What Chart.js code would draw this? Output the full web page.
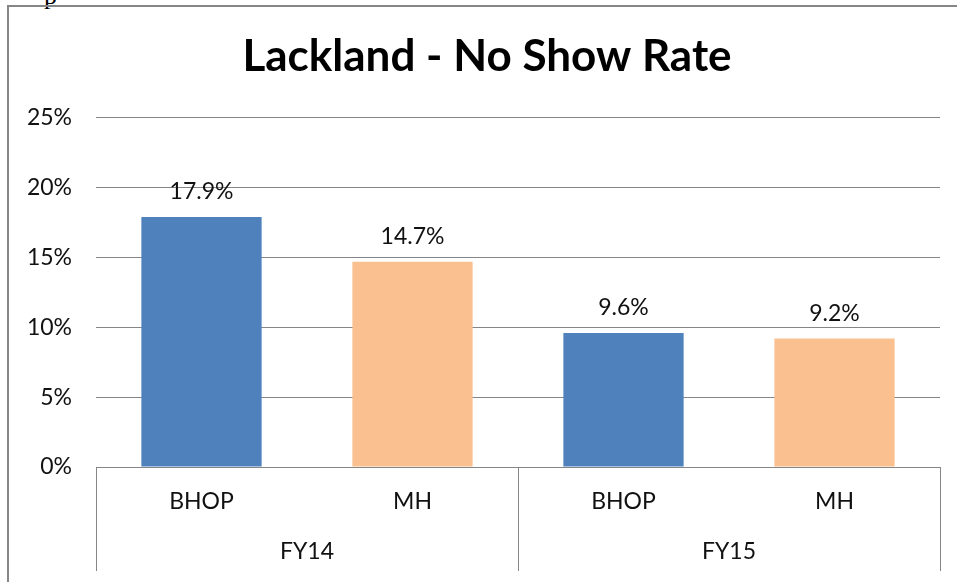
<!DOCTYPE html>
<html>
<head>
<meta charset="utf-8">
<script src="https://cdn.jsdelivr.net/npm/chart.js@4/dist/chart.umd.min.js"></script>
<style>
  html, body { margin: 0; padding: 0; background: #fff; }
  body { width: 957px; height: 582px; position: relative; overflow: hidden; }
  #wrap { position: absolute; left: 0; top: 0; width: 957px; height: 582px; }
  .bline { position: absolute; background: #868686; }
  #frag { position: absolute; left: 44px; top: -19px; font-family: "Liberation Serif", serif; font-size: 26px; color: #000; }
</style>
</head>
<body>
<div id="frag">p</div>
<div class="bline" style="left:7px; top:5px; width:950px; height:2px;"></div>
<div class="bline" style="left:7px; top:5px; width:2px; height:577px;"></div>
<div id="wrap"><canvas id="c" width="957" height="582"></canvas></div>
<script>
const chartTitle = 'Lackland - No Show Rate';
const categories = ['BHOP', 'MH', 'BHOP', 'MH'];
const groups = ['FY14', 'FY15'];
const noShowRates = [17.9, 14.7, 9.6, 9.2];
const barColors = ['#4F81BD', '#FAC090', '#4F81BD', '#FAC090'];
const yTicks = [0, 5, 10, 15, 20, 25];

const FONT = 'Lato';
const TXT = '#111111';
const LINE = '#868686';

// widest y label width, so mirrored labels can be right-aligned left of the plot
const mctx = document.createElement('canvas').getContext('2d');
mctx.font = '23px ' + FONT;
const widestY = Math.max(...yTicks.map(v => mctx.measureText(v + '%').width));

const dataLabels = {
  id: 'dataLabels',
  afterDatasetsDraw(chart) {
    const ctx = chart.ctx;
    ctx.save();
    ctx.font = '23px ' + FONT;
    ctx.fillStyle = TXT;
    ctx.textAlign = 'center';
    ctx.textBaseline = 'middle';
    chart.getDatasetMeta(0).data.forEach((bar, i) => {
      ctx.fillText(noShowRates[i].toFixed(1) + '%', bar.x, bar.y - 25);
    });
    ctx.restore();
  }
};

new Chart(document.getElementById('c'), {
  type: 'bar',
  data: {
    labels: categories,
    datasets: [{
      data: noShowRates,
      backgroundColor: barColors,
      borderWidth: 0,
      barPercentage: 0.57,
      categoryPercentage: 1
    }]
  },
  options: {
    responsive: false,
    animation: false,
    layout: { padding: { left: 34, right: 17, top: 0, bottom: 11 } },
    plugins: {
      legend: { display: false },
      tooltip: { enabled: false },
      title: {
        display: true,
        text: chartTitle,
        color: '#000',
        font: { family: FONT, size: 44, weight: 'bold', lineHeight: 1.2 },
        padding: { top: 30, bottom: 35 }
      }
    },
    scales: {
      y: {
        min: 0, max: 25,
        afterFit: (s) => { s.width = 62; },
        afterBuildTicks: (s) => { s.ticks = yTicks.map(v => ({ value: v })); },
        ticks: {
          callback: (v) => v + '%',
          color: TXT,
          font: { family: FONT, size: 23 },
          mirror: true,
          crossAlign: 'far',
          padding: -24 - widestY
        },
        grid: { color: LINE, lineWidth: 1, drawTicks: false },
        border: { display: false }
      },
      x: {
        weight: 0,
        afterFit: (s) => { s.height = 52; },
        ticks: {
          color: TXT,
          font: { family: FONT, size: 23 },
          padding: -31,
          maxRotation: 0
        },
        grid: {
          offset: true,
          drawOnChartArea: false,
          drawTicks: true,
          tickLength: 52,
          color: (c) => ((c.index === undefined || c.index % 2 === 0) ? LINE : 'rgba(0,0,0,0)'),
          lineWidth: 1
        },
        border: { display: true, color: LINE, width: 1 }
      },
      x2: {
        type: 'category',
        position: 'bottom',
        weight: 1,
        labels: groups,
        offset: true,
        afterFit: (s) => { s.height = 52; },
        ticks: {
          color: TXT,
          font: { family: FONT, size: 23 },
          padding: -33,
          maxRotation: 0
        },
        grid: {
          offset: true,
          drawOnChartArea: false,
          drawTicks: true,
          tickLength: 52,
          color: LINE,
          lineWidth: 1
        },
        border: { display: false }
      }
    }
  },
  plugins: [dataLabels]
});
</script>
</body>
</html>
